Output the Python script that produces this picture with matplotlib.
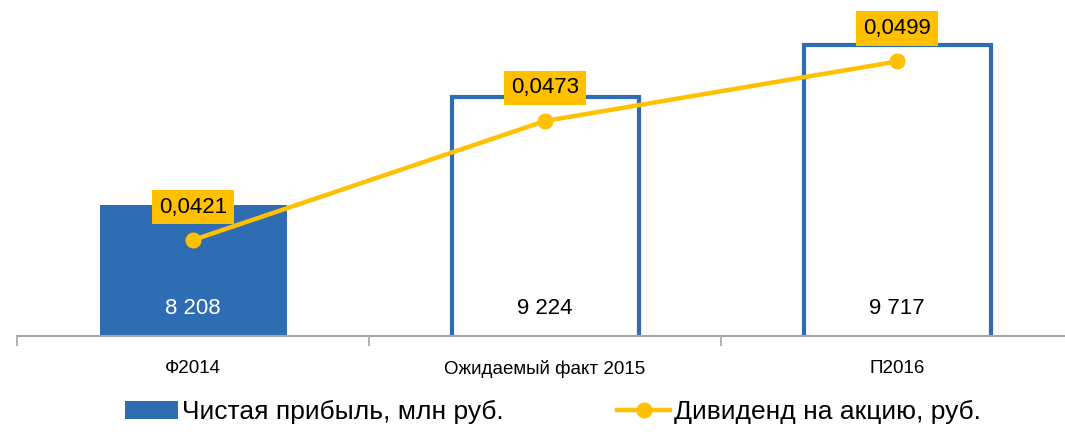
import numpy as np
import matplotlib.pyplot as plt
from matplotlib import font_manager

categories = ['Ф2014', 'Ожидаемый факт 2015', 'П2016']
profit = [8208, 9224, 9717]
profit_labels = ['8 208', '9 224', '9 717']
dividend = [0.0421, 0.0473, 0.0499]
dividend_labels = ['0,0421', '0,0473', '0,0499']

names = {f.name for f in font_manager.fontManager.ttflist}
fam = ['Liberation Sans Narrow', 'Liberation Sans', 'DejaVu Sans']
fam = [f for f in fam if f in names] or ['DejaVu Sans']
plt.rcParams['font.family'] = fam

BLUE = '#2E6DB4'
GOLD = '#FFC000'
GREY = '#A6A6A6'
W, H = 1065, 432

fig = plt.figure(figsize=(W / 100, H / 100), dpi=100)
# axes: left 17px, right 1073px (past the edge), top 17px, bottom 336px
ax = fig.add_axes([17 / W, (H - 336) / H, (1073 - 17) / W, (336 - 17) / H])
ax2 = ax.twinx()

x = np.arange(len(categories))
bw = 187 / 352
bars = ax.bar(x, profit, width=bw, bottom=0, color=[BLUE, 'white', 'white'],
              edgecolor=BLUE, linewidth=3, zorder=2)
bars[0].set_linewidth(0)
ax.set_ylim(6976, 6976 + 319 / 0.1063)
ax.set_xlim(-0.5, 2.5)

for i, (v, lab) in enumerate(zip(profit, profit_labels)):
    ax.text(i, 6976 + 28 / 0.1063, lab, ha='center', va='center', fontsize=16,
            color='white' if i == 0 else 'black', zorder=5)

ax2.plot(x, dividend, color=GOLD, lw=3.2, marker='o', ms=10.5, zorder=3,
         label='Дивиденд на акцию, руб.')
lo2 = 0.0421 - 96 / 22885
ax2.set_ylim(lo2, lo2 + 319 / 22885)
for i, (v, lab) in enumerate(zip(dividend, dividend_labels)):
    ax2.annotate(lab, (i, v), xytext=(0, 33), textcoords='offset pixels',
                 ha='center', va='center', fontsize=16,
                 bbox=dict(boxstyle='square,pad=0.3', fc=GOLD, ec='none'))

for a in (ax, ax2):
    for s in ['top', 'right', 'left']:
        a.spines[s].set_visible(False)
    a.set_yticks([])
ax2.spines['bottom'].set_visible(False)
ax.spines['bottom'].set_color(GREY)
ax.spines['bottom'].set_linewidth(1.5)
ax.set_xticks([-0.5, 0.5, 1.5, 2.5])
ax.set_xticklabels([])
ax.set_xticks(x, minor=True)
ax.set_xticklabels(categories, minor=True, fontsize=13.5)
ax.tick_params(axis='x', which='major', length=7, color=GREY, width=1.2)
ax.tick_params(axis='x', which='minor', length=0, pad=17)

ax.set_zorder(1)
ax2.set_zorder(2)

handles = [bars[0], ax2.get_lines()[0]]
labels = ['Чистая прибыль, млн руб.', 'Дивиденд на акцию, руб.']
fig.legend(handles, labels, loc='center', bbox_to_anchor=(553 / W, (H - 412) / H),
           ncol=2, frameon=False, fontsize=19, columnspacing=4.3,
           handlelength=2.0, handletextpad=0.15, borderpad=0, borderaxespad=0)

fig.savefig('out.png', dpi=100)
